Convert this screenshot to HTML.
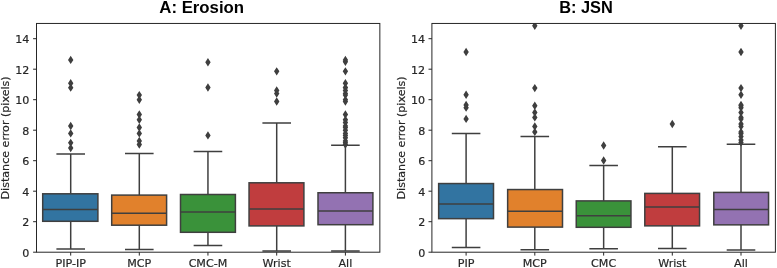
<!DOCTYPE html>
<html><head><meta charset="utf-8"><title>Distance error boxplots</title>
<style>
html,body{margin:0;padding:0;background:#fff;}
svg{display:block;}
.t{font-family:"DejaVu Sans","Liberation Sans",sans-serif;font-size:11.1px;fill:#262626;stroke:#262626;stroke-width:0.2px;}
.yl{font-family:"DejaVu Sans","Liberation Sans",sans-serif;font-size:11.1px;fill:#262626;stroke:#262626;stroke-width:0.2px;}
.ttl{font-family:"Liberation Sans",Arial,Helvetica,sans-serif;font-weight:bold;font-size:16.8px;fill:#000;}
</style></head><body>
<svg width="777" height="268" viewBox="0 0 777 268">
<rect width="777" height="268" fill="#fff"/>
<defs><clipPath id="c0"><rect x="36.5" y="23.45" width="343.35" height="228.75"/></clipPath></defs>
<g clip-path="url(#c0)">
<g stroke="#3f3f3f" stroke-width="1.5" fill="none">
<path d="M70.7 221.3V248.90M70.7 193.8V154.05M56.40 248.90H85.00M56.40 154.05H85.00"/>
<rect x="42.7" y="193.8" width="55.20" height="27.50" fill="#3274a1"/>
<path d="M42.7 209.5H97.9"/>
</g>
<path d="M70.7 143.84l2.7 4.2l-2.7 4.2l-2.7 -4.2zM70.7 138.66l2.7 4.2l-2.7 4.2l-2.7 -4.2zM70.7 129.20l2.7 4.2l-2.7 4.2l-2.7 -4.2zM70.7 121.73l2.7 4.2l-2.7 4.2l-2.7 -4.2zM70.7 83.45l2.7 4.2l-2.7 4.2l-2.7 -4.2zM70.7 79.03l2.7 4.2l-2.7 4.2l-2.7 -4.2zM70.7 55.70l2.7 4.2l-2.7 4.2l-2.7 -4.2z" fill="#3f3f3f"/>
<g stroke="#3f3f3f" stroke-width="1.5" fill="none">
<path d="M139.3 225.2V249.55M139.3 195.1V153.50M125.00 249.55H153.60M125.00 153.50H153.60"/>
<rect x="111.7" y="195.1" width="54.90" height="30.10" fill="#e1812c"/>
<path d="M111.7 213.3H166.6"/>
</g>
<path d="M139.3 140.34l2.7 4.2l-2.7 4.2l-2.7 -4.2zM139.3 136.68l2.7 4.2l-2.7 4.2l-2.7 -4.2zM139.3 129.20l2.7 4.2l-2.7 4.2l-2.7 -4.2zM139.3 123.25l2.7 4.2l-2.7 4.2l-2.7 -4.2zM139.3 115.48l2.7 4.2l-2.7 4.2l-2.7 -4.2zM139.3 110.29l2.7 4.2l-2.7 4.2l-2.7 -4.2zM139.3 95.50l2.7 4.2l-2.7 4.2l-2.7 -4.2zM139.3 90.92l2.7 4.2l-2.7 4.2l-2.7 -4.2z" fill="#3f3f3f"/>
<g stroke="#3f3f3f" stroke-width="1.5" fill="none">
<path d="M207.95 232.3V245.40M207.95 194.5V151.50M193.65 245.40H222.25M193.65 151.50H222.25"/>
<rect x="180.5" y="194.5" width="54.90" height="37.80" fill="#3a923a"/>
<path d="M180.5 212.0H235.4"/>
</g>
<path d="M207.95 131.19l2.7 4.2l-2.7 4.2l-2.7 -4.2zM207.95 83.30l2.7 4.2l-2.7 4.2l-2.7 -4.2zM207.95 57.98l2.7 4.2l-2.7 4.2l-2.7 -4.2z" fill="#3f3f3f"/>
<g stroke="#3f3f3f" stroke-width="1.5" fill="none">
<path d="M276.7 225.9V251.00M276.7 182.8V122.95M262.40 251.00H291.00M262.40 122.95H291.00"/>
<rect x="249.05" y="182.8" width="54.85" height="43.10" fill="#c03d3e"/>
<path d="M249.05 208.95H303.9"/>
</g>
<path d="M276.7 97.33l2.7 4.2l-2.7 4.2l-2.7 -4.2zM276.7 89.40l2.7 4.2l-2.7 4.2l-2.7 -4.2zM276.7 86.35l2.7 4.2l-2.7 4.2l-2.7 -4.2zM276.7 67.14l2.7 4.2l-2.7 4.2l-2.7 -4.2z" fill="#3f3f3f"/>
<g stroke="#3f3f3f" stroke-width="1.5" fill="none">
<path d="M345.4 224.7V251.00M345.4 192.75V145.30M331.10 251.00H359.70M331.10 145.30H359.70"/>
<rect x="318.0" y="192.75" width="54.90" height="31.95" fill="#9372b2"/>
<path d="M318.0 211.0H372.9"/>
</g>
<path d="M345.4 140.34l2.7 4.2l-2.7 4.2l-2.7 -4.2zM345.4 138.66l2.7 4.2l-2.7 4.2l-2.7 -4.2zM345.4 136.68l2.7 4.2l-2.7 4.2l-2.7 -4.2zM345.4 133.62l2.7 4.2l-2.7 4.2l-2.7 -4.2zM345.4 131.19l2.7 4.2l-2.7 4.2l-2.7 -4.2zM345.4 129.20l2.7 4.2l-2.7 4.2l-2.7 -4.2zM345.4 126.00l2.7 4.2l-2.7 4.2l-2.7 -4.2zM345.4 123.25l2.7 4.2l-2.7 4.2l-2.7 -4.2zM345.4 121.73l2.7 4.2l-2.7 4.2l-2.7 -4.2zM345.4 118.37l2.7 4.2l-2.7 4.2l-2.7 -4.2zM345.4 115.48l2.7 4.2l-2.7 4.2l-2.7 -4.2zM345.4 110.29l2.7 4.2l-2.7 4.2l-2.7 -4.2zM345.4 97.33l2.7 4.2l-2.7 4.2l-2.7 -4.2zM345.4 95.50l2.7 4.2l-2.7 4.2l-2.7 -4.2zM345.4 90.92l2.7 4.2l-2.7 4.2l-2.7 -4.2zM345.4 89.40l2.7 4.2l-2.7 4.2l-2.7 -4.2zM345.4 86.35l2.7 4.2l-2.7 4.2l-2.7 -4.2zM345.4 83.45l2.7 4.2l-2.7 4.2l-2.7 -4.2zM345.4 83.30l2.7 4.2l-2.7 4.2l-2.7 -4.2zM345.4 79.03l2.7 4.2l-2.7 4.2l-2.7 -4.2zM345.4 67.14l2.7 4.2l-2.7 4.2l-2.7 -4.2zM345.4 57.53l2.7 4.2l-2.7 4.2l-2.7 -4.2zM345.4 55.70l2.7 4.2l-2.7 4.2l-2.7 -4.2z" fill="#3f3f3f"/>
</g>
<rect x="36.5" y="23.45" width="343.35" height="228.75" fill="none" stroke="#262626" stroke-width="1"/>
<path d="M36.50 252.20h-3.4M36.50 221.70h-3.4M36.50 191.20h-3.4M36.50 160.70h-3.4M36.50 130.20h-3.4M36.50 99.70h-3.4M36.50 69.20h-3.4M36.50 38.70h-3.4M70.7 252.20v3.4M139.3 252.20v3.4M207.95 252.20v3.4M276.7 252.20v3.4M345.4 252.20v3.4" stroke="#262626" stroke-width="1" fill="none"/>
<text class="t" x="29.30" y="256.90" text-anchor="end">0</text>
<text class="t" x="29.30" y="226.40" text-anchor="end">2</text>
<text class="t" x="29.30" y="195.90" text-anchor="end">4</text>
<text class="t" x="29.30" y="165.40" text-anchor="end">6</text>
<text class="t" x="29.30" y="134.90" text-anchor="end">8</text>
<text class="t" x="29.30" y="104.40" text-anchor="end">10</text>
<text class="t" x="29.30" y="73.90" text-anchor="end">12</text>
<text class="t" x="29.30" y="43.40" text-anchor="end">14</text>
<text class="t" x="70.70" y="266.6" text-anchor="middle">PIP-IP</text>
<text class="t" x="139.30" y="266.6" text-anchor="middle">MCP</text>
<text class="t" x="207.95" y="266.6" text-anchor="middle">CMC-M</text>
<text class="t" x="276.70" y="266.6" text-anchor="middle">Wrist</text>
<text class="t" x="345.40" y="266.6" text-anchor="middle">All</text>
<text class="yl" transform="translate(9.10 137.9) rotate(-90)" text-anchor="middle">Distance error (pixels)</text>
<text class="ttl" transform="translate(201.7 12.6) scale(1.0 1)" text-anchor="middle">A: Erosion</text>
<defs><clipPath id="c1"><rect x="431.9" y="23.45" width="343.50" height="228.75"/></clipPath></defs>
<g clip-path="url(#c1)">
<g stroke="#3f3f3f" stroke-width="1.5" fill="none">
<path d="M466.1 218.65V247.45M466.1 183.55V133.55M451.80 247.45H480.40M451.80 133.55H480.40"/>
<rect x="438.65" y="183.55" width="54.85" height="35.10" fill="#3274a1"/>
<path d="M438.65 204.05H493.5"/>
</g>
<path d="M466.1 114.71l2.7 4.2l-2.7 4.2l-2.7 -4.2zM466.1 103.43l2.7 4.2l-2.7 4.2l-2.7 -4.2zM466.1 100.84l2.7 4.2l-2.7 4.2l-2.7 -4.2zM466.1 90.62l2.7 4.2l-2.7 4.2l-2.7 -4.2zM466.1 47.84l2.7 4.2l-2.7 4.2l-2.7 -4.2z" fill="#3f3f3f"/>
<g stroke="#3f3f3f" stroke-width="1.5" fill="none">
<path d="M534.8 227.1V249.80M534.8 189.55V136.50M520.50 249.80H549.10M520.50 136.50H549.10"/>
<rect x="507.65" y="189.55" width="54.85" height="37.55" fill="#e1812c"/>
<path d="M507.65 211.2H562.5"/>
</g>
<path d="M534.8 127.68l2.7 4.2l-2.7 4.2l-2.7 -4.2zM534.8 122.19l2.7 4.2l-2.7 4.2l-2.7 -4.2zM534.8 113.19l2.7 4.2l-2.7 4.2l-2.7 -4.2zM534.8 108.31l2.7 4.2l-2.7 4.2l-2.7 -4.2zM534.8 101.60l2.7 4.2l-2.7 4.2l-2.7 -4.2zM534.8 83.91l2.7 4.2l-2.7 4.2l-2.7 -4.2zM534.8 21.54l2.7 4.2l-2.7 4.2l-2.7 -4.2z" fill="#3f3f3f"/>
<g stroke="#3f3f3f" stroke-width="1.5" fill="none">
<path d="M603.65 227.3V248.80M603.65 200.9V165.40M589.35 248.80H617.95M589.35 165.40H617.95"/>
<rect x="576.25" y="200.9" width="54.70" height="26.40" fill="#3a923a"/>
<path d="M576.25 215.7H630.95"/>
</g>
<path d="M603.65 156.35l2.7 4.2l-2.7 4.2l-2.7 -4.2zM603.65 141.25l2.7 4.2l-2.7 4.2l-2.7 -4.2z" fill="#3f3f3f"/>
<g stroke="#3f3f3f" stroke-width="1.5" fill="none">
<path d="M672.3 225.85V248.50M672.3 193.4V146.75M658.00 248.50H686.60M658.00 146.75H686.60"/>
<rect x="644.8" y="193.4" width="54.75" height="32.45" fill="#c03d3e"/>
<path d="M644.8 207.1H699.55"/>
</g>
<path d="M672.3 119.75l2.7 4.2l-2.7 4.2l-2.7 -4.2z" fill="#3f3f3f"/>
<g stroke="#3f3f3f" stroke-width="1.5" fill="none">
<path d="M741.0 224.85V250.00M741.0 192.4V144.20M726.70 250.00H755.30M726.70 144.20H755.30"/>
<rect x="713.8" y="192.4" width="54.75" height="32.45" fill="#9372b2"/>
<path d="M713.8 209.6H768.55"/>
</g>
<path d="M741.0 138.20l2.7 4.2l-2.7 4.2l-2.7 -4.2zM741.0 135.76l2.7 4.2l-2.7 4.2l-2.7 -4.2zM741.0 132.25l2.7 4.2l-2.7 4.2l-2.7 -4.2zM741.0 129.35l2.7 4.2l-2.7 4.2l-2.7 -4.2zM741.0 127.68l2.7 4.2l-2.7 4.2l-2.7 -4.2zM741.0 122.19l2.7 4.2l-2.7 4.2l-2.7 -4.2zM741.0 119.75l2.7 4.2l-2.7 4.2l-2.7 -4.2zM741.0 114.71l2.7 4.2l-2.7 4.2l-2.7 -4.2zM741.0 113.19l2.7 4.2l-2.7 4.2l-2.7 -4.2zM741.0 108.31l2.7 4.2l-2.7 4.2l-2.7 -4.2zM741.0 103.43l2.7 4.2l-2.7 4.2l-2.7 -4.2zM741.0 101.60l2.7 4.2l-2.7 4.2l-2.7 -4.2zM741.0 100.84l2.7 4.2l-2.7 4.2l-2.7 -4.2zM741.0 90.62l2.7 4.2l-2.7 4.2l-2.7 -4.2zM741.0 83.91l2.7 4.2l-2.7 4.2l-2.7 -4.2zM741.0 47.84l2.7 4.2l-2.7 4.2l-2.7 -4.2zM741.0 21.54l2.7 4.2l-2.7 4.2l-2.7 -4.2z" fill="#3f3f3f"/>
</g>
<rect x="431.9" y="23.45" width="343.50" height="228.75" fill="none" stroke="#262626" stroke-width="1"/>
<path d="M431.90 252.20h-3.4M431.90 221.70h-3.4M431.90 191.20h-3.4M431.90 160.70h-3.4M431.90 130.20h-3.4M431.90 99.70h-3.4M431.90 69.20h-3.4M431.90 38.70h-3.4M466.1 252.20v3.4M534.8 252.20v3.4M603.65 252.20v3.4M672.3 252.20v3.4M741.0 252.20v3.4" stroke="#262626" stroke-width="1" fill="none"/>
<text class="t" x="425.20" y="256.90" text-anchor="end">0</text>
<text class="t" x="425.20" y="226.40" text-anchor="end">2</text>
<text class="t" x="425.20" y="195.90" text-anchor="end">4</text>
<text class="t" x="425.20" y="165.40" text-anchor="end">6</text>
<text class="t" x="425.20" y="134.90" text-anchor="end">8</text>
<text class="t" x="425.20" y="104.40" text-anchor="end">10</text>
<text class="t" x="425.20" y="73.90" text-anchor="end">12</text>
<text class="t" x="425.20" y="43.40" text-anchor="end">14</text>
<text class="t" x="466.10" y="266.6" text-anchor="middle">PIP</text>
<text class="t" x="534.80" y="266.6" text-anchor="middle">MCP</text>
<text class="t" x="603.65" y="266.6" text-anchor="middle">CMC</text>
<text class="t" x="672.30" y="266.6" text-anchor="middle">Wrist</text>
<text class="t" x="741.00" y="266.6" text-anchor="middle">All</text>
<text class="yl" transform="translate(404.50 137.9) rotate(-90)" text-anchor="middle">Distance error (pixels)</text>
<text class="ttl" transform="translate(586.0 12.6) scale(0.975 1)" text-anchor="middle">B: JSN</text>
</svg></body></html>
